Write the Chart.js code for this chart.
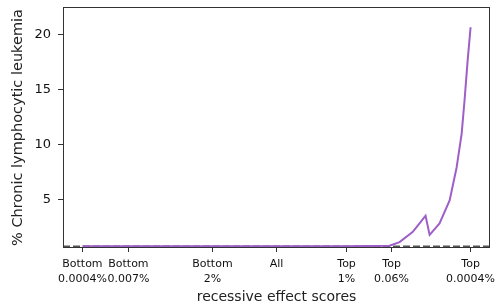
<!DOCTYPE html>
<html>
<head>
<meta charset="utf-8">
<script src="https://cdn.jsdelivr.net/npm/chart.js@4/dist/chart.umd.min.js"></script>
<style>
  html, body { margin: 0; padding: 0; background: #fff; }
  #wrap { width: 498px; height: 306px; }
</style>
</head>
<body>
<div id="wrap"><canvas id="cll"></canvas></div>
<script>
// x position of each score bin (All = 0, most extreme bins = -1 / +1)
const scorePos = [-1, -0.763, -0.33, 0, 0.361, 0.582, 0.634, 0.701, 0.737, 0.768, 0.789, 0.84, 0.892, 0.928, 0.954, 0.969, 0.985, 1];
const cllPct = [0.72, 0.72, 0.72, 0.72, 0.72, 0.76, 1.09, 2.0, 2.8, 3.5, 1.75, 2.8, 4.9, 7.9, 11.0, 14.06, 17.7, 20.7];

const baselinePct = 0.68;

const tickPos = [-1, -0.763, -0.33, 0, 0.361, 0.593, 1];
const tickLabels = [
    ['Bottom', '0.0004%'],
    ['Bottom', '0.007%'],
    ['Bottom', '2%'],
    ['All'],
    ['Top', '1%'],
    ['Top', '0.06%'],
    ['Top', '0.0004%']
];
const yTicks = [5, 10, 15, 20];

const framePlugin = {
    id: 'frame',
    afterDraw(chart) {
        const { ctx, chartArea: a } = chart;
        ctx.save();
        ctx.strokeStyle = '#333';
        ctx.lineWidth = 1;
        ctx.strokeRect(Math.round(a.left) + 0.5, Math.round(a.top) + 0.5,
            Math.round(a.right - a.left) - 1, Math.round(a.bottom - a.top) - 1);
        ctx.restore();
    }
};

const ctx = document.getElementById('cll').getContext('2d');
new Chart(ctx, {
    type: 'line',
    data: {
        datasets: [
            {
                data: scorePos.map((x, i) => ({ x: x, y: cllPct[i] })),
                borderColor: 'rgb(158, 95, 200)',
                borderWidth: 2,
                pointRadius: 0,
                tension: 0,
                order: 0
            },
            {
                data: [{ x: -1.1, y: baselinePct }, { x: 1.1, y: baselinePct }],
                borderColor: '#555',
                borderWidth: 2,
                borderDash: [7, 3],
                pointRadius: 0,
                order: 1
            }
        ]
    },
    options: {
        responsive: true,
        maintainAspectRatio: false,
        animation: false,
        layout: { padding: { left: 0, right: 8, top: 7, bottom: 0 } },
        plugins: { legend: { display: false }, tooltip: { enabled: false } },
        scales: {
            x: {
                type: 'linear',
                min: -1.1,
                max: 1.1,
                afterBuildTicks: (scale) => { scale.ticks = tickPos.map(v => ({ value: v })); },
                afterFit: (scale) => {
                    scale.height = 58;
                    scale.paddingLeft = 0;
                    scale.paddingRight = 0;
                },
                border: { display: false },
                grid: { drawOnChartArea: false, drawTicks: true, tickLength: 4, color: '#333' },
                ticks: {
                    autoSkip: false,
                    maxRotation: 0,
                    padding: 4,
                    color: '#111',
                    font: { family: 'DejaVu Sans', size: 11, lineHeight: 1.4 },
                    callback: (v) => {
                        const i = tickPos.indexOf(v);
                        return i >= 0 ? tickLabels[i] : '';
                    }
                },
                title: {
                    display: true,
                    text: 'recessive effect scores',
                    color: '#222',
                    font: { family: 'DejaVu Sans', size: 14 },
                    padding: { top: 0, bottom: 0 }
                }
            },
            y: {
                min: 0.55,
                max: 22.55,
                afterBuildTicks: (scale) => { scale.ticks = yTicks.map(v => ({ value: v })); },
                afterFit: (scale) => {
                    scale.width = 63;
                    scale.paddingTop = 0;
                    scale.paddingBottom = 0;
                },
                border: { display: false },
                grid: { drawOnChartArea: false, drawTicks: true, tickLength: 5, color: '#333' },
                ticks: {
                    padding: 7,
                    color: '#111',
                    font: { family: 'DejaVu Sans', size: 13 }
                },
                title: {
                    display: true,
                    text: '% Chronic lymphocytic leukemia',
                    color: '#222',
                    font: { family: 'DejaVu Sans', size: 14.5 },
                    padding: { top: 10, bottom: 0 }
                }
            }
        }
    },
    plugins: [framePlugin]
});
</script>
</body>
</html>
